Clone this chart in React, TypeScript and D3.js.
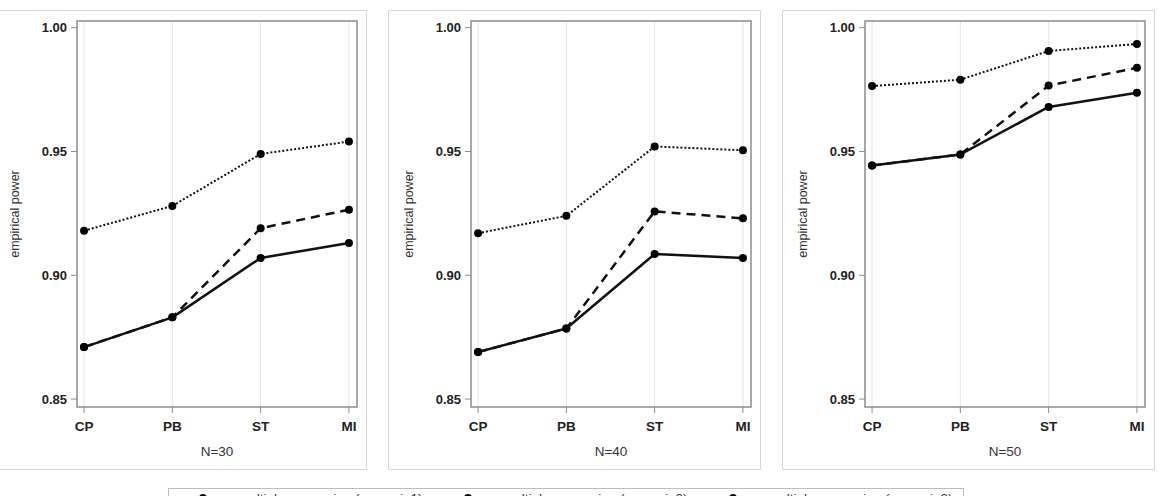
import React, { useEffect, useRef } from 'react';
import { select, scaleLinear, scalePoint, line } from 'd3';

// categories and panels
const categories = ['CP', 'PB', 'ST', 'MI'];
const panelTitles = ['N=30', 'N=40', 'N=50'];
const yTicks = [0.85, 0.9, 0.95, 1.0];

// one row per panel (N=30, N=40, N=50)
const scenario1 = [
  [0.871, 0.883, 0.907, 0.913],
  [0.869, 0.8785, 0.9086, 0.907],
  [0.9443, 0.9488, 0.968, 0.9737],
];
const scenario2 = [
  [0.871, 0.883, 0.919, 0.9265],
  [0.869, 0.8785, 0.9258, 0.923],
  [0.9443, 0.9488, 0.9766, 0.9838],
];
const scenario3 = [
  [0.918, 0.928, 0.949, 0.954],
  [0.917, 0.924, 0.952, 0.9505],
  [0.9764, 0.979, 0.9906, 0.9934],
];

const legendLabels = [
  'multiple regression (scenario1)',
  'multiple regression (scenario2)',
  'multiple regression (scenario3)',
];

const seriesStyles = [
  { dash: null, width: 2.5 },
  { dash: '9,6', width: 2.5 },
  { dash: '2,2', width: 2 },
];

const W = 1161;
const H = 496;
const FONT = 'Arial, "Liberation Sans", sans-serif';

const renderChart = (svgEl: SVGSVGElement) => {
  const svg = select(svgEl);
  svg.selectAll('*').remove();

  const allSeries = [scenario1, scenario2, scenario3];

  panelTitles.forEach((title, i) => {
    const x0 = -6 + 394 * i;
    const left = x0 + 83;
    const right = x0 + 363;
    const top = 21;
    const bottom = 407;

    const g = svg.append('g');

    g.append('rect')
      .attr('x', x0 + 0.5)
      .attr('y', 10.5)
      .attr('width', 372)
      .attr('height', 459)
      .attr('fill', '#fff')
      .attr('stroke', '#d4d4d4')
      .attr('stroke-width', 1);

    const xScale = scalePoint<string>()
      .domain(categories)
      .range([left, right - 1])
      .padding(0.08);

    const yScale = scaleLinear().domain([0.8468, 1.0027]).range([bottom, top]);

    // vertical grid lines
    g.selectAll('.grid')
      .data(categories)
      .enter()
      .append('line')
      .attr('x1', (d) => xScale(d)!)
      .attr('x2', (d) => xScale(d)!)
      .attr('y1', top)
      .attr('y2', bottom)
      .attr('stroke', '#e6e6e6')
      .attr('stroke-width', 1);

    // frame
    g.append('rect')
      .attr('x', left)
      .attr('y', top)
      .attr('width', right - left)
      .attr('height', bottom - top)
      .attr('fill', 'none')
      .attr('stroke', '#8c8c8c')
      .attr('stroke-width', 1.5);

    // y ticks
    const yt = g.selectAll('.ytick').data(yTicks).enter().append('g');
    yt.append('line')
      .attr('x1', left - 6)
      .attr('x2', left)
      .attr('y1', (d) => yScale(d))
      .attr('y2', (d) => yScale(d))
      .attr('stroke', '#8c8c8c')
      .attr('stroke-width', 1);
    yt.append('text')
      .attr('x', left - 10)
      .attr('y', (d) => yScale(d))
      .attr('dy', '0.35em')
      .attr('text-anchor', 'end')
      .attr('font-family', FONT)
      .attr('font-size', 13)
      .attr('font-weight', 'bold')
      .attr('fill', '#222')
      .text((d) => d.toFixed(2));

    // x ticks
    const xt = g.selectAll('.xtick').data(categories).enter().append('g');
    xt.append('line')
      .attr('x1', (d) => xScale(d)!)
      .attr('x2', (d) => xScale(d)!)
      .attr('y1', bottom)
      .attr('y2', bottom + 6)
      .attr('stroke', '#8c8c8c')
      .attr('stroke-width', 1);
    xt.append('text')
      .attr('x', (d) => xScale(d)!)
      .attr('y', 431)
      .attr('text-anchor', 'middle')
      .attr('font-family', FONT)
      .attr('font-size', 13.5)
      .attr('font-weight', 'bold')
      .attr('fill', '#222')
      .text((d) => d);

    g.append('text')
      .attr('x', (left + right) / 2)
      .attr('y', 456)
      .attr('text-anchor', 'middle')
      .attr('font-family', FONT)
      .attr('font-size', 13.5)
      .attr('fill', '#333')
      .text(title);

    g.append('text')
      .attr('transform', `translate(${x0 + 25},${(top + bottom) / 2}) rotate(-90)`)
      .attr('text-anchor', 'middle')
      .attr('font-family', FONT)
      .attr('font-size', 12.5)
      .attr('fill', '#333')
      .text('empirical power');

    // series, drawn dotted first so solid sits on top
    [2, 1, 0].forEach((s) => {
      const values = allSeries[s][i];
      const pts = values.map((v, k) => [xScale(categories[k])!, yScale(v)] as [number, number]);
      const path = g.append('path')
        .attr('d', line()(pts))
        .attr('fill', 'none')
        .attr('stroke', '#111')
        .attr('stroke-width', seriesStyles[s].width)
        .attr('stroke-linejoin', 'round');
      if (seriesStyles[s].dash) path.attr('stroke-dasharray', seriesStyles[s].dash);
      g.selectAll(null)
        .data(pts)
        .enter()
        .append('circle')
        .attr('cx', (d) => d[0])
        .attr('cy', (d) => d[1])
        .attr('r', 4)
        .attr('fill', '#000');
    });
  });

  // legend (cut off by the bottom edge, as in the picture)
  const lg = svg.append('g');
  lg.append('rect')
    .attr('x', 168.5)
    .attr('y', 488.5)
    .attr('width', 795)
    .attr('height', 30)
    .attr('fill', '#fff')
    .attr('stroke', '#bdbdbd')
    .attr('stroke-width', 1);

  legendLabels.forEach((label, i) => {
    const sx = 175 + 265 * i;
    const l = lg.append('line')
      .attr('x1', sx)
      .attr('x2', sx + 57)
      .attr('y1', 498)
      .attr('y2', 498)
      .attr('stroke', '#111')
      .attr('stroke-width', seriesStyles[i].width);
    if (seriesStyles[i].dash) l.attr('stroke-dasharray', seriesStyles[i].dash);
    lg.append('circle').attr('cx', sx + 28).attr('cy', 498).attr('r', 4).attr('fill', '#000');
    lg.append('text')
      .attr('x', sx + 63)
      .attr('y', 503)
      .attr('font-family', FONT)
      .attr('font-size', 13.5)
      .attr('fill', '#333')
      .text(label);
  });
};

const App = () => {
  const ref = useRef<SVGSVGElement>(null);
  useEffect(() => {
    if (ref.current) renderChart(ref.current);
  }, []);
  return (
    <div>
      <style>{`body{margin:0;background:#fff}`}</style>
      <svg ref={ref} width={W} height={H} style={{ display: 'block' }} />
    </div>
  );
};

export default App;
